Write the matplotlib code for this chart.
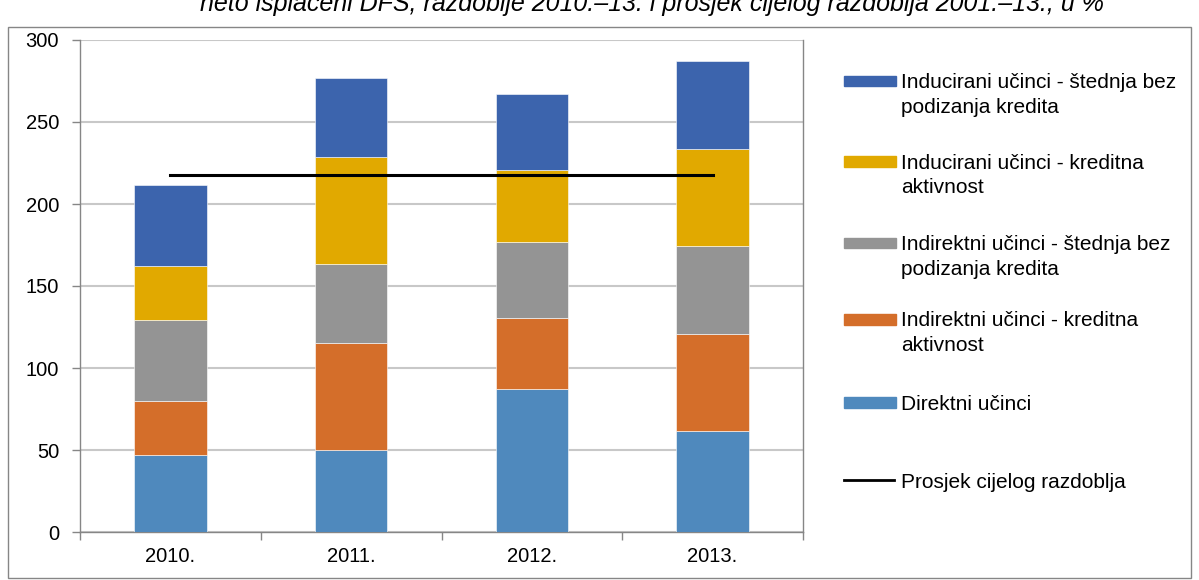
import matplotlib.pyplot as plt
import matplotlib.patches as mpatches
import matplotlib.lines as mlines
import numpy as np

plt.rcParams['font.family'] = ['Liberation Sans', 'DejaVu Sans']

years = ['2010.', '2011.', '2012.', '2013.']
direktni = [46.9, 49.9, 87.0, 61.5]
indir_kredit = [32.7, 65.4, 43.5, 59.5]
indir_stednja = [49.6, 48.0, 46.5, 53.3]
induc_kredit = [32.7, 65.4, 43.5, 59.5]
induc_stednja = [49.6, 48.0, 46.5, 53.3]
prosjek = 217.5

labels = ['Direktni učinci',
          'Indirektni učinci - kreditna\naktivnost',
          'Indirektni učinci - štednja bez\npodizanja kredita',
          'Inducirani učinci - kreditna\naktivnost',
          'Inducirani učinci - štednja bez\npodizanja kredita']
avg_label = 'Prosjek cijelog razdoblja'
colors = ['#4F89BD', '#D46E2A', '#949494', '#E1A900', '#3C64AD']
title = 'neto isplaćeni DFS, razdoblje 2010.–13. i prosjek cijelog razdoblja 2001.–13., u %'

W, H = 1199, 580
fig = plt.figure(figsize=(W / 100, H / 100), dpi=100)

def fx(px):
    return px / W

def fy(py):
    return 1 - py / H

ax = fig.add_axes([fx(80), fy(532), fx(803) - fx(80), fy(40) - fy(532)])

x = np.arange(len(years))
series = [direktni, indir_kredit, indir_stednja, induc_kredit, induc_stednja]
bottom = np.zeros(len(years))
for vals, col in zip(series, colors):
    ax.bar(x, vals, 0.4, bottom=bottom, color=col, edgecolor='white',
           linewidth=0.4, zorder=3)
    bottom += np.array(vals)

ax.plot([x[0], x[-1]], [prosjek, prosjek], color='black', lw=2.2, zorder=4)

ax.set_xlim(-0.5, 3.5)
ax.set_ylim(0, 300)
ax.set_yticks(range(0, 301, 50))
ax.yaxis.grid(True, color='#C8C8C8', lw=1.5, zorder=0)
ax.set_xticks(np.arange(-0.5, 3.6, 1.0))
ax.set_xticklabels([])
ax.set_xticks(x, minor=True)
ax.set_xticklabels(years, minor=True)
ax.tick_params(axis='x', which='major', length=6, color='#868686', width=1)
ax.tick_params(axis='x', which='minor', length=0, pad=11, labelsize=14.5)
ax.tick_params(axis='y', length=6, color='#868686', width=1, labelsize=14.5, pad=9)
for s in ax.spines.values():
    s.set_color('#868686')
    s.set_linewidth(1)
ax.spines['top'].set_visible(False)

# outer chart frame
fig.add_artist(mpatches.Rectangle((fx(8), fy(578)), fx(1191) - fx(8), fy(27) - fy(578),
                                  transform=fig.transFigure, fill=False,
                                  edgecolor='#868686', lw=1))

fig.text(fx(652), fy(11), title, ha='center', va='baseline', fontsize=18,
         style='italic')

# legend (top to bottom)
leg_y = [81, 161, 243, 319, 402]
for lab, col, yy in zip(labels[::-1], colors[::-1], leg_y):
    fig.add_artist(mpatches.Rectangle((fx(844), fy(yy + 5.5)), fx(896) - fx(844), fy(yy - 5.5) - fy(yy + 5.5),
                                      transform=fig.transFigure, color=col))
    for i, line in enumerate(lab.split('\n')):
        fig.text(fx(901), fy(yy + i * 24.5), line, fontsize=15, va='center_baseline')
fig.add_artist(mlines.Line2D([fx(844), fx(894)], [fy(480), fy(480)],
                             transform=fig.transFigure, color='black', lw=2))
fig.text(fx(901), fy(480), avg_label, fontsize=15, va='center_baseline')

fig.savefig('out.png', dpi=100)
